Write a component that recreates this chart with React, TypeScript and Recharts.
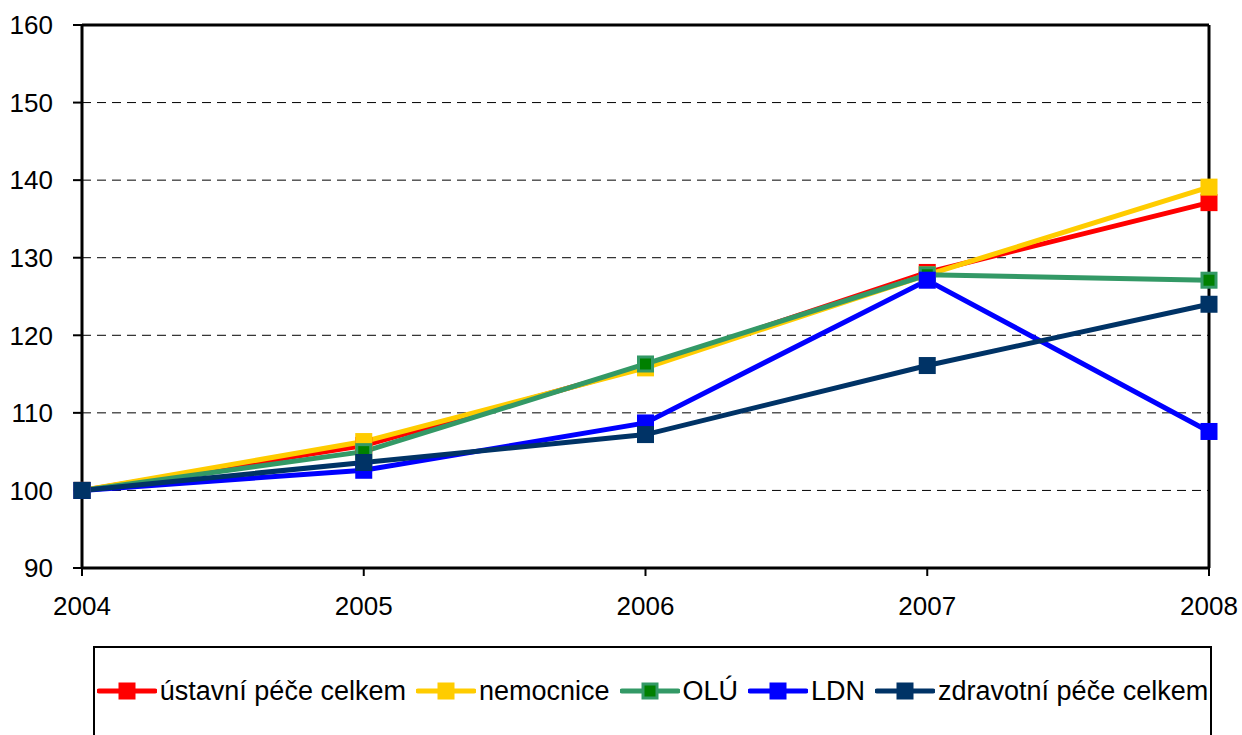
import React from 'react';
import { LineChart, Line, XAxis, YAxis, CartesianGrid, Legend, ReferenceLine } from 'recharts';

const years = ['2004', '2005', '2006', '2007', '2008'];
const ustavni = [100, 105.8, 116.0, 128.1, 137.1];
const nemocnice = [100, 106.3, 115.8, 127.8, 139.1];
const olu = [100, 105.0, 116.3, 127.8, 127.1];
const ldn = [100, 102.6, 108.7, 127.1, 107.6];
const zdravotni = [100, 103.6, 107.2, 116.1, 124.0];
const yTicks = [90, 100, 110, 120, 130, 140, 150, 160];

const series = [
  { key: 'ustavni', name: 'ústavní péče celkem', values: ustavni, color: '#FF0000', fill: '#FF0000', mstroke: 'none' },
  { key: 'nemocnice', name: 'nemocnice', values: nemocnice, color: '#FFCC00', fill: '#FFCC00', mstroke: 'none' },
  { key: 'olu', name: 'OLÚ', values: olu, color: '#339966', fill: '#008000', mstroke: '#339966' },
  { key: 'ldn', name: 'LDN', values: ldn, color: '#0000FF', fill: '#0000FF', mstroke: 'none' },
  { key: 'zdravotni', name: 'zdravotní péče celkem', values: zdravotni, color: '#003366', fill: '#003366', mstroke: 'none' },
];

const data = years.map((y, i) => {
  const row: any = { year: y };
  series.forEach((s) => { row[s.key] = s.values[i]; });
  return row;
});

const FONT = '"Liberation Sans", Arial, sans-serif';

const makeDot = (fill: string, stroke: string) => (props: any) => {
  const { cx, cy, index } = props;
  if (cx == null || cy == null) return <g key={index} />;
  if (stroke !== 'none') {
    return <rect key={index} x={cx - 7} y={cy - 7} width={14} height={14} fill={fill} stroke={stroke} strokeWidth={3} />;
  }
  return <rect key={index} x={cx - 8.5} y={cy - 8.5} width={17} height={17} fill={fill} />;
};

const renderLegend = () => (
  <div style={{ height: 89, position: 'relative' }}>
    <div
      style={{
        position: 'absolute', left: 93, top: 0, width: 1119, height: 100,
        border: '2px solid #000', borderBottom: 'none', boxSizing: 'border-box', background: '#fff',
      }}
    >
      <div
        style={{
          position: 'absolute', left: 0, right: 0, top: 28, height: 30,
          display: 'flex', alignItems: 'center', justifyContent: 'center',
          fontFamily: FONT, fontSize: 27, color: '#000', whiteSpace: 'nowrap',
        }}
      >
        {series.map((s, i) => (
          <div key={s.key} style={{ display: 'flex', alignItems: 'center', marginRight: i < series.length - 1 ? 10 : 0 }}>
            <svg width={60} height={20} style={{ display: 'block' }}>
              <line x1={2} y1={10} x2={58} y2={10} stroke={s.color} strokeWidth={5} strokeLinecap="round" />
              {s.mstroke !== 'none' ? (
                <rect x={23} y={3} width={14} height={14} fill={s.fill} stroke={s.mstroke} strokeWidth={3} />
              ) : (
                <rect x={21.5} y={1.5} width={17} height={17} fill={s.fill} />
              )}
            </svg>
            <span style={{ marginLeft: 3 }}>{s.name}</span>
          </div>
        ))}
      </div>
    </div>
  </div>
);

export default function App() {
  return (
    <div style={{ position: 'absolute', left: 0, top: 0, width: 1242, height: 735, background: '#fff' }}>
      <LineChart width={1242} height={735} data={data} margin={{ top: 25, right: 33, bottom: 0, left: 0 }}>
        <CartesianGrid horizontal vertical={false} stroke="#000" strokeDasharray="9 6" strokeWidth={1} />
        <ReferenceLine y={160} stroke="#000" strokeWidth={3} />
        <ReferenceLine x="2008" stroke="#000" strokeWidth={3} />
        <XAxis
          dataKey="year"
          height={78}
          tickSize={8}
          tickMargin={21}
          axisLine={{ stroke: '#000', strokeWidth: 3 }}
          tickLine={{ stroke: '#000', strokeWidth: 2 }}
          tick={{ fill: '#000', fontSize: 26, fontFamily: FONT }}
          interval={0}
        />
        <YAxis
          domain={[90, 160]}
          ticks={yTicks}
          width={82}
          tickSize={9}
          tickMargin={20}
          interval={0}
          axisLine={{ stroke: '#000', strokeWidth: 3 }}
          tickLine={{ stroke: '#000', strokeWidth: 2 }}
          tick={{ fill: '#000', fontSize: 26, fontFamily: FONT }}
        />
        <Legend verticalAlign="bottom" content={renderLegend} />
        {series.map((s) => (
          <Line
            key={s.key}
            dataKey={s.key}
            name={s.name}
            type="linear"
            stroke={s.color}
            strokeWidth={5}
            dot={makeDot(s.fill, s.mstroke)}
            activeDot={false}
            isAnimationActive={false}
          />
        ))}
      </LineChart>
    </div>
  );
}
